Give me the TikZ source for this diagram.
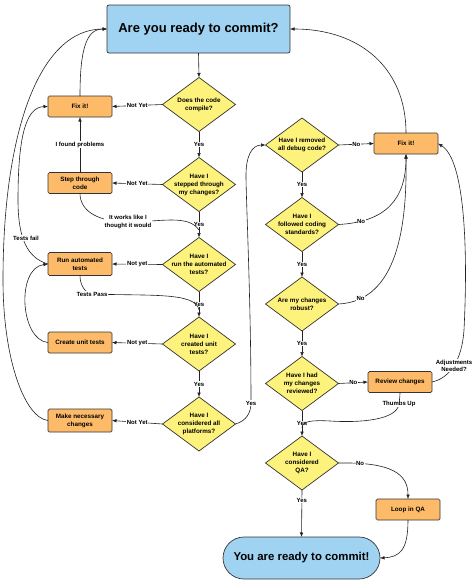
\documentclass[tikz,border=0pt]{standalone}
\usepackage{fontspec}
\setmainfont{Liberation Sans}
\usetikzlibrary{shapes.geometric,arrows.meta}
\definecolor{bluec}{HTML}{A0D3F1}
\definecolor{orangec}{HTML}{FDBB6A}
\definecolor{yellowc}{HTML}{FDF27B}
\definecolor{edgec}{HTML}{333333}
\definecolor{linec}{HTML}{222222}
\begin{document}
\begin{tikzpicture}[x=1pt,y=-1pt,
 every node/.style={inner sep=0pt, outer sep=0pt},
 diam/.style={diamond, draw=edgec, line width=0.7pt, fill=yellowc, minimum width=73pt, minimum height=54pt},
 dtext/.style={font=\fontsize{6.3}{8}\selectfont\bfseries, align=center, text=black},
 obox/.style={rectangle, rounded corners=1.5pt, draw=edgec, line width=0.7pt, fill=orangec, minimum width=64pt, minimum height=21pt, font=\fontsize{6.3}{8}\selectfont\bfseries, align=center},
 bigbox/.style={rectangle, draw=edgec, line width=0.7pt, fill=bluec, font=\fontsize{13}{15}\selectfont\bfseries},
 lbl/.style={fill=white, inner sep=0.6pt, font=\fontsize{6}{7.5}\selectfont\bfseries, align=center},
 conn/.style={draw=linec, line width=0.6pt, -{Latex[length=4.5pt,width=3.6pt]}},
 plain/.style={draw=linec, line width=0.6pt},
]
\useasboundingbox[fill=white] (0,0) rectangle (474,587);

% main boxes
\node[bigbox, rounded corners=2pt, minimum width=183pt, minimum height=48pt] (top) at (198.5,29) {Are you ready to commit?};
\node[bigbox, rounded corners=21pt, minimum width=157pt, minimum height=42pt, font=\fontsize{11.4}{13}\selectfont\bfseries] (final) at (301.5,558) {You are ready to commit!};

% left column diamonds
\node[diam, label={[dtext]center:Does the code\\compile?}] (d1) at (199,104.5) {};
\node[diam, label={[dtext]center:Have I\\stepped through\\my changes?}] (d2) at (199,184.5) {};
\node[diam, label={[dtext]center:Have I\\run the automated\\tests?}] (d3) at (199,264.5) {};
\node[diam, label={[dtext]center:Have I\\created unit\\tests?}] (d4) at (199,344) {};
\node[diam, label={[dtext]center:Have I\\considered all\\platforms?}] (d5) at (199,424) {};

% right column diamonds
\node[diam, label={[dtext]center:Have I removed\\all debug code?}] (r1) at (302,145) {};
\node[diam, label={[dtext]center:Have I\\followed coding\\standards?}] (r2) at (302,224.5) {};
\node[diam, label={[dtext]center:Are my changes\\robust?}] (r3) at (302,304) {};
\node[diam, label={[dtext]center:Have I had\\my changes\\reviewed?}] (r4) at (302,383.5) {};
\node[diam, label={[dtext]center:Have I\\considered\\QA?}] (r5) at (302,463) {};

% left boxes
\node[obox] (fixL) at (80,106.5) {Fix it!};
\node[obox] (stepL) at (80,183) {Step through\\code};
\node[obox, minimum height=23pt] (runL) at (80,264) {Run automated\\tests};
\node[obox] (createL) at (80,342.5) {Create unit tests};
\node[obox, minimum height=23pt] (makeL) at (80,420.5) {Make necessary\\changes};

% right boxes
\node[obox] (fixR) at (406,143.5) {Fix it!};
\node[obox] (review) at (400,382) {Review changes};
\node[obox] (loop) at (408,509.5) {Loop in QA};

% main left column flow
\draw[conn] (top.south) -- (d1.north);
\draw[conn] (d1.south) -- node[lbl] (y1) {Yes} (d2.north);
\draw[conn] (d2.south) -- node[lbl] (y2) {Yes} (d3.north);
\draw[conn] (d3.south) -- node[lbl] (y3) {Yes} (d4.north);
\draw[conn] (d4.south) -- node[lbl] (y4) {Yes} (d5.north);

\draw[conn] (d1.west) -- node[lbl] (n1) {Not Yet} (fixL.east);
\draw[conn] (d2.west) -- node[lbl] (n2) {Not Yet} (stepL.east);
\draw[conn] (d3.west) -- node[lbl] (n3) {Not yet} (runL.east);
\draw[conn] (d4.west) -- node[lbl] (n4) {Not yet} (createL.east);
\draw[conn] (d5.west) -- node[lbl] (n5) {Not Yet} (makeL.east);

% left loops
\draw[conn] (stepL.north) -- node[lbl] (lf) {I found problems} (fixL.south);
\draw[conn] (fixL.north) .. controls (80,50) and (86,29) .. (top.west);
\draw[conn] (makeL.west) .. controls (25,418) and (3,360) .. (3,280) .. controls (3,130) and (40,29) .. (top.west);
\draw[conn] (runL.west) .. controls (28,258) and (18,240) .. (18,200) .. controls (18,140) and (25,107) .. (fixL.west);
\node[lbl] (tf) at (26,238) {Tests fail};
\draw[conn] (createL.west) .. controls (20,340) and (16,268) .. (runL.west);

\coordinate (m23) at (199,230);
\draw[plain] (stepL.south) .. controls (80,212) and (100,222) .. (128,222) node[lbl] (tw) {It works like I\\thought it would} .. controls (160,222) and (188,214) .. (m23);
\coordinate (m34) at (199,310);
\draw[plain] (runL.south) .. controls (80,285) and (85,293) .. (92,294) node[lbl] (tp) {Tests Pass} .. controls (150,296) and (196,292) .. (m34);

% bridge to right column
\draw[conn] (d5.east) .. controls (246,421) and (251,413) .. (251,403) node[lbl] (y5) {Yes} .. controls (251,300) and (246,200) .. (246,175) .. controls (246,156) and (252,145) .. (r1.west);

% right column flow
\draw[conn] (r1.south) -- node[lbl] (y6) {Yes} (r2.north);
\draw[conn] (r2.south) -- node[lbl] (y7) {Yes} (r3.north);
\draw[conn] (r3.south) -- node[lbl] (y8) {Yes} (r4.north);
\draw[conn] (r4.south) -- node[lbl] (y9) {Yes} (r5.north);
\draw[conn] (r5.south) -- node[lbl, pos=0.22] (y10) {Yes} (final.north);

\draw[conn] (r1.east) -- node[lbl] (no1) {No} (fixR.west);
\draw[conn] (r2.east) .. controls (385,222) and (406,200) .. (fixR.south) node[lbl, pos=0.18] (no2) {No};
\draw[conn] (r3.east) .. controls (398,301) and (407,225) .. (fixR.south) node[lbl, pos=0.14] (no3) {No};
\draw[conn] (r4.east) -- node[lbl] (no4) {No} (review.west);
\draw[conn] (r5.east) .. controls (392,462) and (408,474) .. (loop.north) node[lbl, pos=0.15] (no5) {No};

\draw[conn] (fixR.north) .. controls (406,68) and (360,29) .. (top.east);
\draw[conn] (review.east) .. controls (450,378) and (462,360) .. (464,330) node[lbl, pos=0.5] (adj) {Adjustments\\Needed?} .. controls (468,250) and (465,160) .. (fixR.east);
\coordinate (m45) at (302,428);
\draw[plain] (review.south) .. controls (400,398) and (399,402) .. (399,404) node[lbl] (tu) {Thumbs Up} .. controls (397,420) and (360,423) .. (330,421) .. controls (312,420) and (302,421) .. (m45);
\draw[conn] (loop.south) .. controls (408,550) and (400,557) .. (final.east);
\end{tikzpicture}
\end{document}
